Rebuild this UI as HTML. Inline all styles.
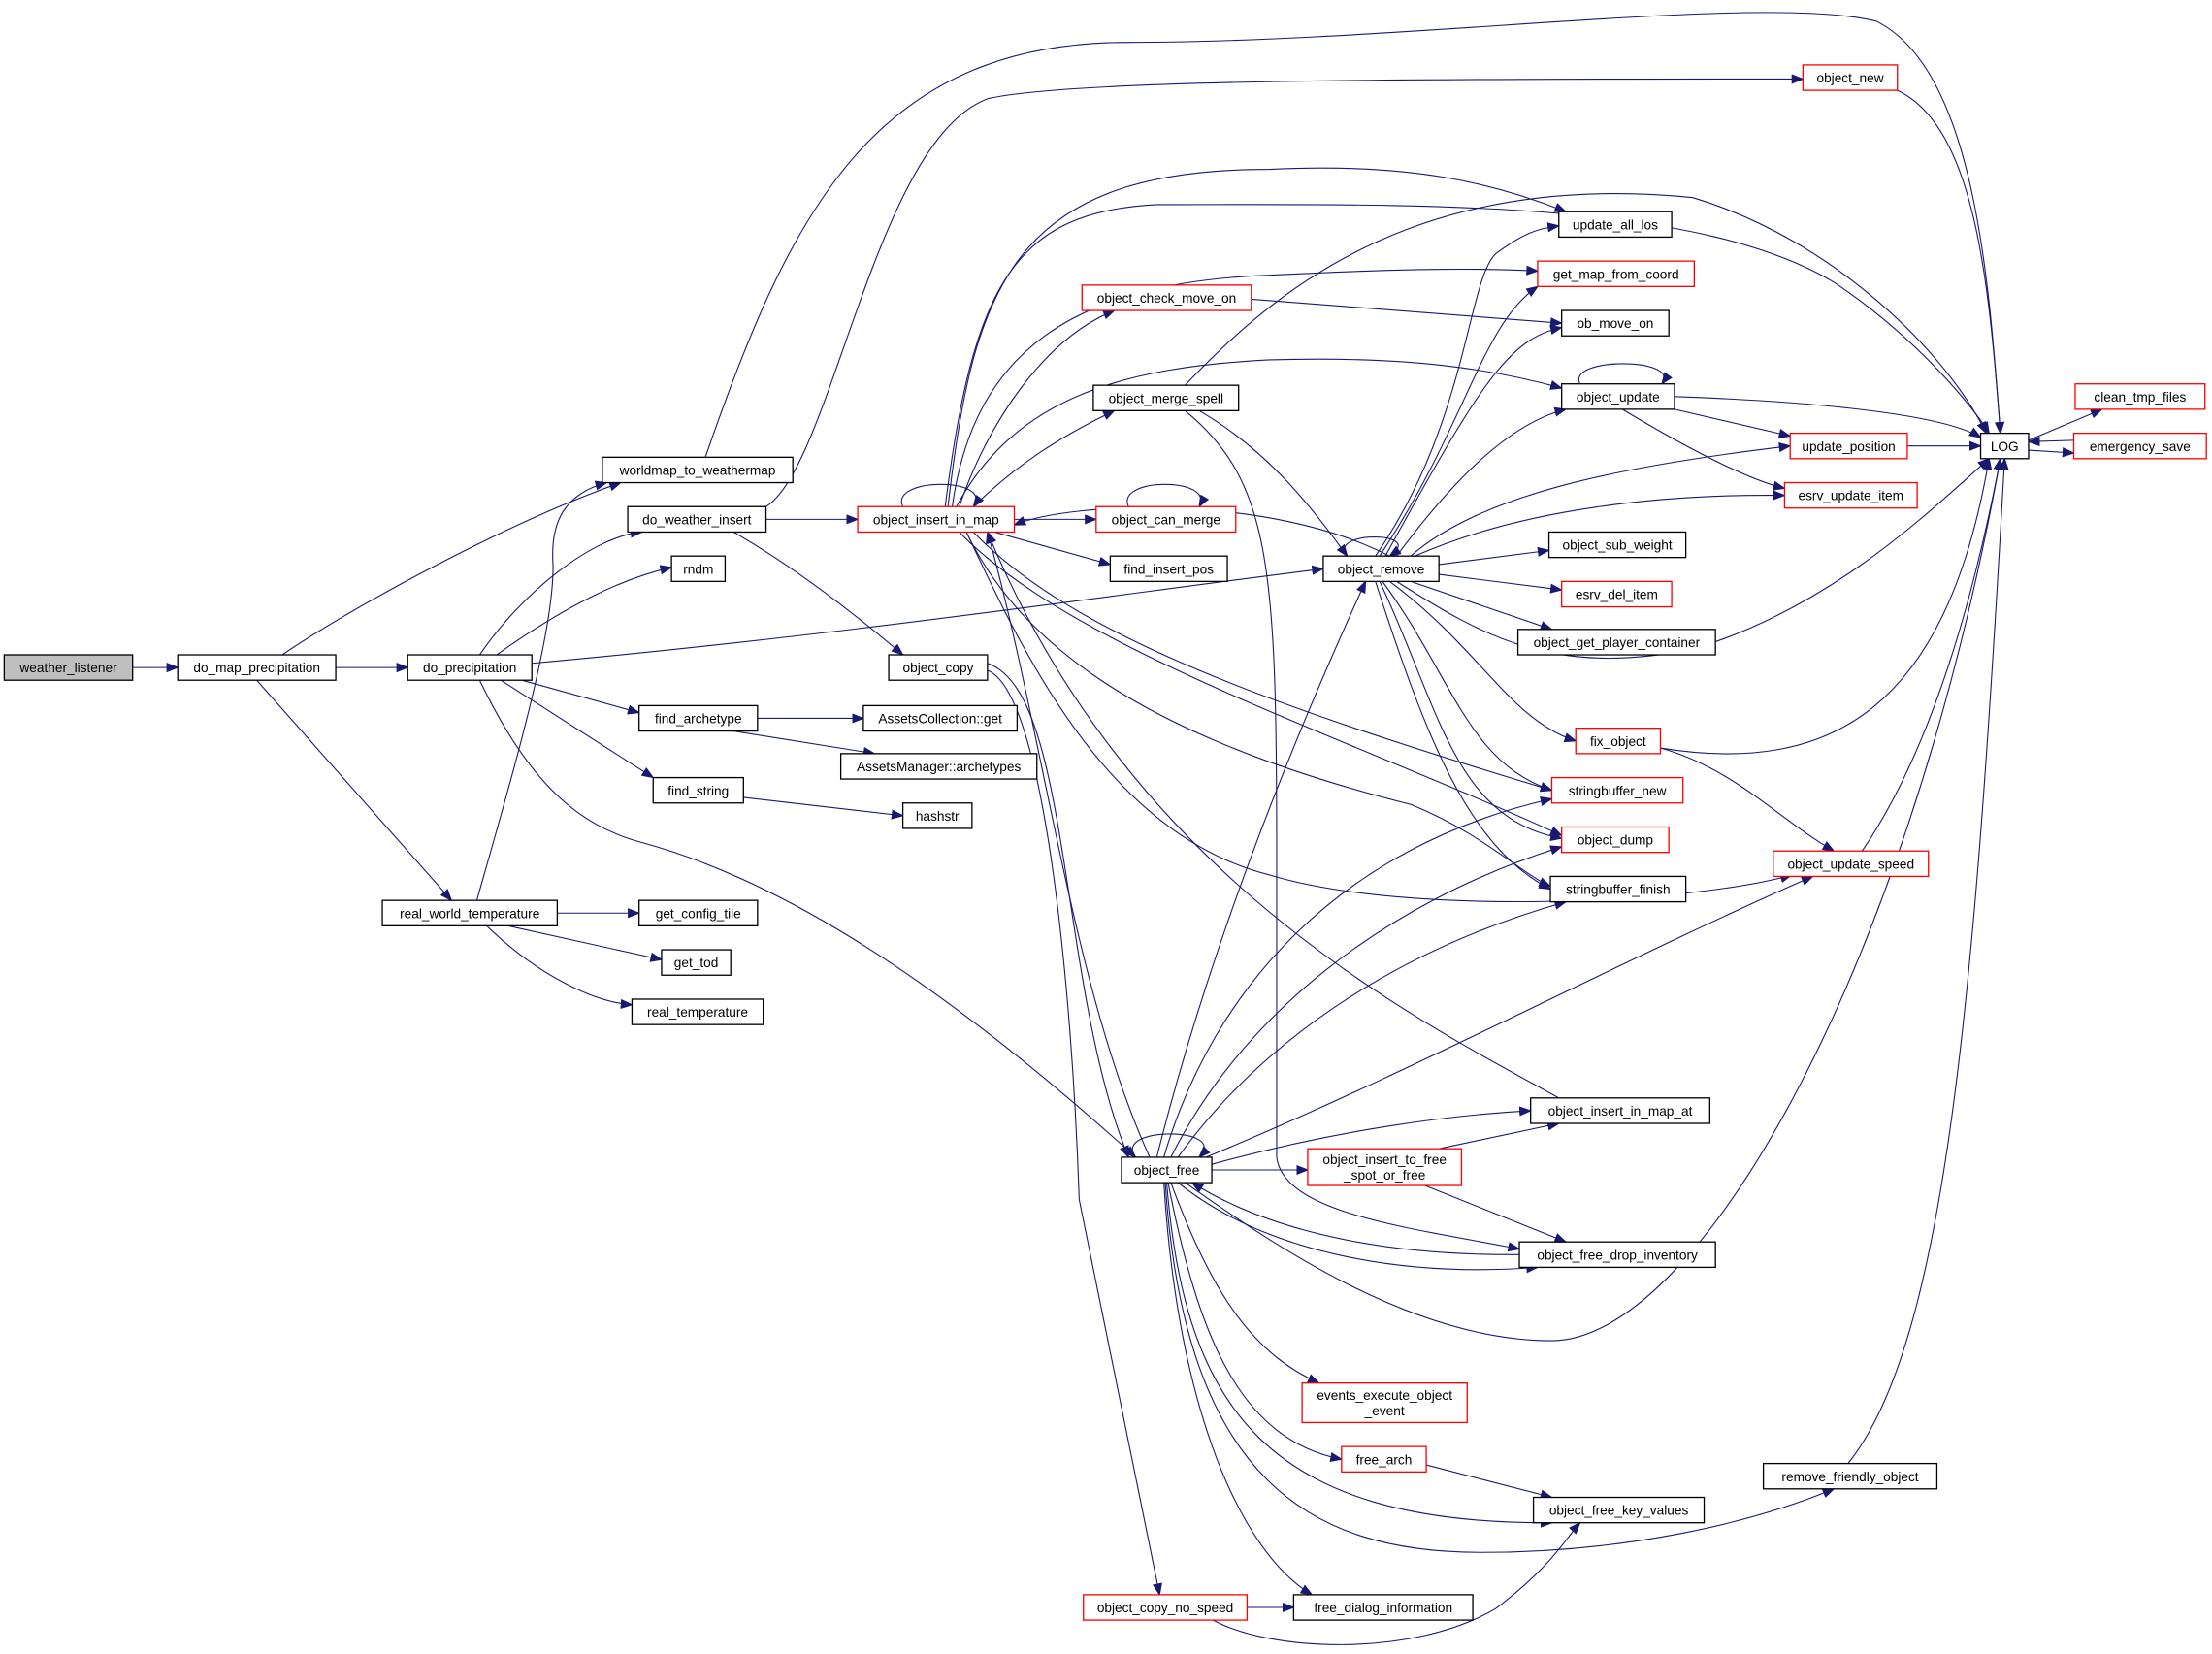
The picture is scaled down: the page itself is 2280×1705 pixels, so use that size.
<!DOCTYPE html>
<html><head><meta charset="utf-8"><style>
html,body{margin:0;padding:0;background:#fff;}
svg{display:block;}
text{font-family:"Liberation Sans",sans-serif;font-size:9.4px;fill:#000;}
.n{fill:#fff;stroke:#000;stroke-width:0.9;}
.r{fill:#fff;stroke:#ff0000;stroke-width:0.9;}
.e{fill:none;stroke:#191970;stroke-width:0.75;}
</style></head><body>
<svg width="2280" height="1705" viewBox="0 0 1568 1172" preserveAspectRatio="none" xmlns="http://www.w3.org/2000/svg">
<defs><marker id="a" markerUnits="userSpaceOnUse" markerWidth="9" markerHeight="7" refX="8" refY="3.5" orient="auto"><path d="M0,0 L9,3.5 L0,7 Z" fill="#191970"/></marker></defs>
<g marker-end="url(#a)">
<path class="e" d="M94,473 L126,473"/>
<path class="e" d="M238,473 L289,473"/>
<path class="e" d="M200,464 C250,430 360,370 440,342"/>
<path class="e" d="M182,482 L320,638"/>
<path class="e" d="M340,464 C370,420 420,380 455,377"/>
<path class="e" d="M352,464 C400,430 440,410 476,402"/>
<path class="e" d="M377,470 C600,450 800,420 938,403"/>
<path class="e" d="M370,482 L453,505"/>
<path class="e" d="M355,482 L463,551"/>
<path class="e" d="M340,482 C375,555 410,585 455,597 C540,620 650,680 805,820"/>
<path class="e" d="M338,638 C360,560 393,450 392,400 C390,370 400,350 430,342"/>
<path class="e" d="M395,647 L453,647"/>
<path class="e" d="M360,656 L469,680"/>
<path class="e" d="M345,656 C380,690 420,710 448,712"/>
<path class="e" d="M500,324 C560,150 620,30 800,30 C1000,30 1250,-5 1330,15 C1400,50 1410,200 1418,307"/>
<path class="e" d="M543,368 L608,368"/>
<path class="e" d="M543,359 C590,330 620,100 700,70 C760,56 1000,56 1278,56"/>
<path class="e" d="M520,377 C560,400 600,430 640,464"/>
<path class="e" d="M537,509 L612,509"/>
<path class="e" d="M520,518 L620,534"/>
<path class="e" d="M527,565 L640,578"/>
<path class="e" d="M640,359 C630,338 705,338 690,359"/>
<path class="e" d="M719,368 L777,368"/>
<path class="e" d="M705,377 L787,400"/>
<path class="e" d="M680,359 C700,300 740,240 790,220"/>
<path class="e" d="M690,359 C720,330 750,310 790,291"/>
<path class="e" d="M672,359 C690,200 720,120 900,120 C1000,115 1060,130 1110,150"/>
<path class="e" d="M675,359 C690,250 760,200 900,195 C1000,190 1050,190 1090,192"/>
<path class="e" d="M678,359 C720,280 800,260 900,255 C1000,252 1060,262 1107,275"/>
<path class="e" d="M670,359 C690,200 720,150 820,145 C1000,145 1200,140 1300,200 C1360,240 1400,290 1410,307"/>
<path class="e" d="M690,377 C760,450 900,500 1100,560"/>
<path class="e" d="M680,377 C760,460 950,520 1107,592"/>
<path class="e" d="M685,377 C720,450 800,520 1000,570 C1050,590 1080,620 1099,628"/>
<path class="e" d="M685,377 C720,450 780,590 900,620 C1000,650 1200,640 1270,620"/>
<path class="e" d="M700,470 C760,490 750,700 800,820"/>
<path class="e" d="M700,475 C740,490 760,700 765,850 L822,1130"/>
<path class="e" d="M850,291 C900,320 930,360 955,394"/>
<path class="e" d="M840,291 C900,340 905,400 905,600 L905,820 C910,860 1000,870 1077,885"/>
<path class="e" d="M840,273 C900,210 1000,120 1200,140 C1300,170 1380,250 1408,307"/>
<path class="e" d="M887,212 L1107,229"/>
<path class="e" d="M800,359 C790,338 862,338 850,359"/>
<path class="e" d="M955,394 C940,376 1012,376 985,394"/>
<path class="e" d="M975,394 C1040,300 1040,200 1060,180 C1080,165 1090,162 1105,160"/>
<path class="e" d="M978,394 C1040,300 1050,230 1090,203"/>
<path class="e" d="M982,394 C1050,270 1070,240 1107,232"/>
<path class="e" d="M990,394 C1030,340 1070,300 1110,290"/>
<path class="e" d="M1000,394 C1050,350 1150,330 1269,316"/>
<path class="e" d="M1003,394 C1080,360 1180,350 1265,351"/>
<path class="e" d="M1020,400 L1098,390"/>
<path class="e" d="M1020,407 L1107,418"/>
<path class="e" d="M1000,412 L1100,446"/>
<path class="e" d="M990,412 C1050,450 1100,480 1200,460 C1300,430 1370,360 1410,325"/>
<path class="e" d="M985,412 C1050,460 1070,510 1117,525"/>
<path class="e" d="M980,412 C1030,480 1040,540 1100,560"/>
<path class="e" d="M978,412 C1020,500 1030,580 1107,594"/>
<path class="e" d="M975,412 C1010,520 1040,600 1099,630"/>
<path class="e" d="M985,394 C900,350 760,355 719,372"/>
<path class="e" d="M1120,272 C1110,253 1192,253 1178,272"/>
<path class="e" d="M1187,281 C1300,285 1380,295 1404,310"/>
<path class="e" d="M1187,290 L1269,309"/>
<path class="e" d="M1150,290 C1200,320 1240,340 1265,346"/>
<path class="e" d="M1352,316 L1404,316"/>
<path class="e" d="M1345,64 C1400,90 1410,200 1418,307"/>
<path class="e" d="M1438,312 L1490,290"/>
<path class="e" d="M1438,319 L1470,321"/>
<path class="e" d="M1470,312 L1438,313"/>
<path class="e" d="M1177,530 C1300,550 1380,500 1410,325"/>
<path class="e" d="M1177,530 C1230,545 1260,580 1300,603"/>
<path class="e" d="M1320,603 C1370,530 1400,420 1418,325"/>
<path class="e" d="M805,820 C788,798 872,798 850,820"/>
<path class="e" d="M820,820 C850,700 900,560 968,412"/>
<path class="e" d="M825,820 C860,700 950,600 1100,566"/>
<path class="e" d="M830,820 C880,720 980,640 1107,600"/>
<path class="e" d="M835,820 C900,730 1000,670 1110,639"/>
<path class="e" d="M855,820 C1000,760 1150,680 1285,621"/>
<path class="e" d="M859,825 C950,800 1030,790 1085,787"/>
<path class="e" d="M859,829 L927,829"/>
<path class="e" d="M835,838 C900,890 1000,905 1090,898"/>
<path class="e" d="M1077,889 C950,890 880,860 845,838"/>
<path class="e" d="M840,838 C900,880 1000,950 1100,950 C1200,950 1350,700 1418,325"/>
<path class="e" d="M830,838 C860,920 890,960 935,980"/>
<path class="e" d="M828,838 C850,950 880,1020 951,1034"/>
<path class="e" d="M827,838 C840,1000 900,1080 1100,1079"/>
<path class="e" d="M826,838 C840,1050 930,1100 1050,1100 C1150,1100 1240,1080 1300,1055"/>
<path class="e" d="M825,838 C835,1000 880,1100 930,1130"/>
<path class="e" d="M1310,1037 C1380,950 1400,700 1421,325"/>
<path class="e" d="M1020,814 L1105,796"/>
<path class="e" d="M1010,840 L1110,880"/>
<path class="e" d="M1105,778 C1000,720 800,620 700,377"/>
<path class="e" d="M1011,1038 L1100,1061"/>
<path class="e" d="M884,1139 L917,1139"/>
<path class="e" d="M860,1148 C900,1170 1000,1175 1060,1140 C1100,1110 1110,1090 1120,1079"/>
<path class="e" d="M815,820 C760,700 740,520 700,377"/>
</g>
<g>
<rect x="3" y="464" width="91" height="18" fill="#bfbfbf" stroke="#000" stroke-width="0.9"/><text x="48.5" y="476.5" text-anchor="middle">weather_listener</text>
<rect class="n" x="126" y="464" width="112" height="18"/><text x="182" y="476.5" text-anchor="middle">do_map_precipitation</text>
<rect class="n" x="289" y="464" width="88" height="18"/><text x="333" y="476.5" text-anchor="middle">do_precipitation</text>
<rect class="n" x="427" y="324" width="135" height="18"/><text x="494.5" y="336.5" text-anchor="middle">worldmap_to_weathermap</text>
<rect class="n" x="445" y="359" width="98" height="18"/><text x="494" y="371.5" text-anchor="middle">do_weather_insert</text>
<rect class="n" x="476" y="394" width="38" height="18"/><text x="495" y="406.5" text-anchor="middle">rndm</text>
<rect class="n" x="453" y="500" width="84" height="18"/><text x="495" y="512.5" text-anchor="middle">find_archetype</text>
<rect class="n" x="463" y="551" width="64" height="18"/><text x="495" y="563.5" text-anchor="middle">find_string</text>
<rect class="n" x="271" y="638" width="124" height="18"/><text x="333" y="650.5" text-anchor="middle">real_world_temperature</text>
<rect class="n" x="453" y="638" width="84" height="18"/><text x="495" y="650.5" text-anchor="middle">get_config_tile</text>
<rect class="n" x="469" y="673" width="49" height="18"/><text x="493.5" y="685.5" text-anchor="middle">get_tod</text>
<rect class="n" x="448" y="708" width="93" height="18"/><text x="494.5" y="720.5" text-anchor="middle">real_temperature</text>
<rect class="r" x="608" y="359" width="111" height="18"/><text x="663.5" y="371.5" text-anchor="middle">object_insert_in_map</text>
<rect class="n" x="630" y="464" width="70" height="18"/><text x="665" y="476.5" text-anchor="middle">object_copy</text>
<rect class="n" x="612" y="500" width="109" height="18"/><text x="666.5" y="512.5" text-anchor="middle">AssetsCollection::get</text>
<rect class="n" x="596" y="534" width="139" height="18"/><text x="665.5" y="546.5" text-anchor="middle">AssetsManager::archetypes</text>
<rect class="n" x="640" y="569" width="49" height="18"/><text x="664.5" y="581.5" text-anchor="middle">hashstr</text>
<rect class="r" x="1278" y="46" width="67" height="18"/><text x="1311.5" y="58.5" text-anchor="middle">object_new</text>
<rect class="n" x="1105" y="150" width="80" height="18"/><text x="1145" y="162.5" text-anchor="middle">update_all_los</text>
<rect class="r" x="1090" y="185" width="111" height="18"/><text x="1145.5" y="197.5" text-anchor="middle">get_map_from_coord</text>
<rect class="r" x="767" y="202" width="120" height="18"/><text x="827" y="214.5" text-anchor="middle">object_check_move_on</text>
<rect class="n" x="1107" y="220" width="76" height="18"/><text x="1145" y="232.5" text-anchor="middle">ob_move_on</text>
<rect class="n" x="775" y="273" width="103" height="18"/><text x="826.5" y="285.5" text-anchor="middle">object_merge_spell</text>
<rect class="n" x="1107" y="272" width="80" height="18"/><text x="1147" y="284.5" text-anchor="middle">object_update</text>
<rect class="r" x="777" y="359" width="99" height="18"/><text x="826.5" y="371.5" text-anchor="middle">object_can_merge</text>
<rect class="n" x="787" y="394" width="83" height="18"/><text x="828.5" y="406.5" text-anchor="middle">find_insert_pos</text>
<rect class="n" x="938" y="394" width="82" height="18"/><text x="979" y="406.5" text-anchor="middle">object_remove</text>
<rect class="n" x="1404" y="307" width="34" height="18"/><text x="1421" y="319.5" text-anchor="middle">LOG</text>
<rect class="r" x="1471" y="272" width="92" height="18"/><text x="1517" y="284.5" text-anchor="middle">clean_tmp_files</text>
<rect class="r" x="1470" y="307" width="94" height="18"/><text x="1517" y="319.5" text-anchor="middle">emergency_save</text>
<rect class="r" x="1269" y="307" width="83" height="18"/><text x="1310.5" y="319.5" text-anchor="middle">update_position</text>
<rect class="r" x="1265" y="342" width="94" height="18"/><text x="1312" y="354.5" text-anchor="middle">esrv_update_item</text>
<rect class="n" x="1098" y="377" width="97" height="18"/><text x="1146.5" y="389.5" text-anchor="middle">object_sub_weight</text>
<rect class="r" x="1107" y="412" width="78" height="18"/><text x="1146" y="424.5" text-anchor="middle">esrv_del_item</text>
<rect class="n" x="1076" y="446" width="140" height="18"/><text x="1146" y="458.5" text-anchor="middle">object_get_player_container</text>
<rect class="r" x="1117" y="516" width="60" height="18"/><text x="1147" y="528.5" text-anchor="middle">fix_object</text>
<rect class="r" x="1100" y="551" width="93" height="18"/><text x="1146.5" y="563.5" text-anchor="middle">stringbuffer_new</text>
<rect class="r" x="1107" y="586" width="76" height="18"/><text x="1145" y="598.5" text-anchor="middle">object_dump</text>
<rect class="n" x="1099" y="621" width="96" height="18"/><text x="1147" y="633.5" text-anchor="middle">stringbuffer_finish</text>
<rect class="r" x="1257" y="603" width="110" height="18"/><text x="1312" y="615.5" text-anchor="middle">object_update_speed</text>
<rect class="n" x="1085" y="778" width="127" height="18"/><text x="1148.5" y="790.5" text-anchor="middle">object_insert_in_map_at</text>
<rect class="n" x="795" y="820" width="64" height="18"/><text x="827" y="832.5" text-anchor="middle">object_free</text>
<rect class="r" x="927" y="814" width="109" height="26"/><text x="981.5" y="825" text-anchor="middle">object_insert_to_free</text><text x="981.5" y="836" text-anchor="middle">_spot_or_free</text>
<rect class="n" x="1077" y="880" width="139" height="18"/><text x="1146.5" y="892.5" text-anchor="middle">object_free_drop_inventory</text>
<rect class="r" x="923" y="980" width="117" height="28"/><text x="981.5" y="992" text-anchor="middle">events_execute_object</text><text x="981.5" y="1003" text-anchor="middle">_event</text>
<rect class="r" x="951" y="1025" width="60" height="18"/><text x="981" y="1037.5" text-anchor="middle">free_arch</text>
<rect class="n" x="1250" y="1037" width="123" height="18"/><text x="1311.5" y="1049.5" text-anchor="middle">remove_friendly_object</text>
<rect class="n" x="1087" y="1061" width="121" height="18"/><text x="1147.5" y="1073.5" text-anchor="middle">object_free_key_values</text>
<rect class="r" x="768" y="1130" width="116" height="18"/><text x="826" y="1142.5" text-anchor="middle">object_copy_no_speed</text>
<rect class="n" x="917" y="1130" width="127" height="18"/><text x="980.5" y="1142.5" text-anchor="middle">free_dialog_information</text>
</g>
</svg>
</body></html>
